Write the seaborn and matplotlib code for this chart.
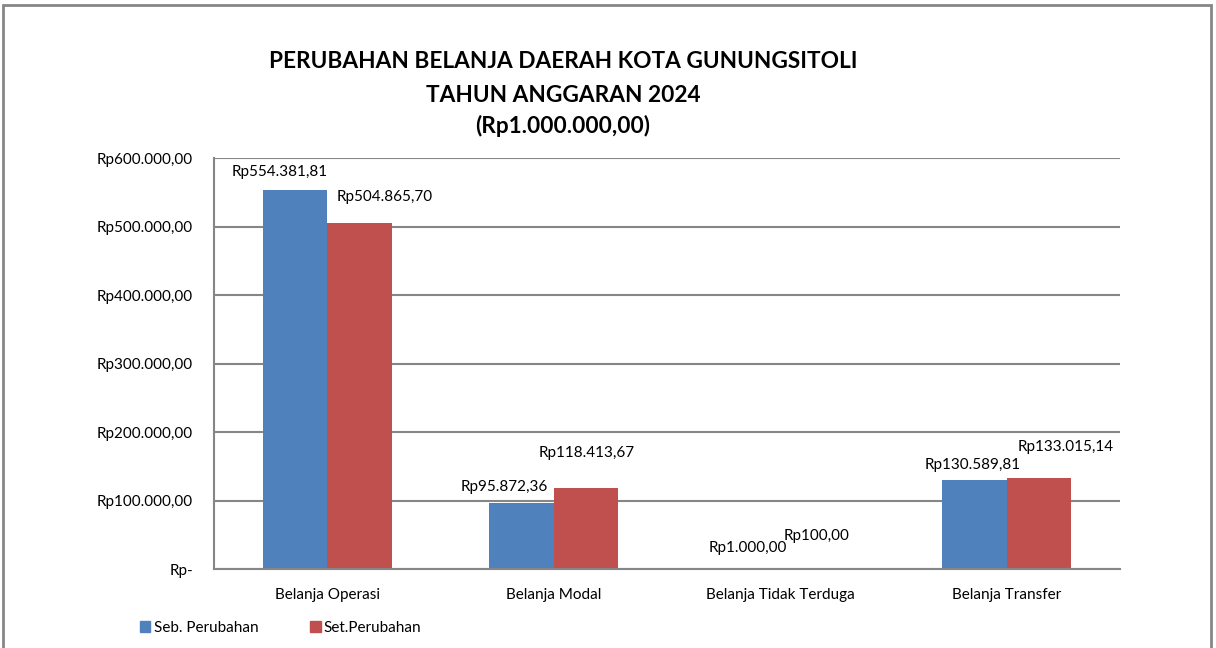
import numpy as np
import pandas as pd
import matplotlib
matplotlib.use('Agg')
import matplotlib.pyplot as plt
import seaborn as sns
from matplotlib.patches import Rectangle

# data (in Rp 1.000.000)
categories = ['Belanja Operasi', 'Belanja Modal', 'Belanja Tidak Terduga', 'Belanja Transfer']
seb_perubahan = [554381.81, 95872.36, 1000.00, 130589.81]
set_perubahan = [504865.70, 118413.67, 100.00, 133015.14]
seb_labels = ['Rp554.381,81', 'Rp95.872,36', 'Rp1.000,00', 'Rp130.589,81']
set_labels = ['Rp504.865,70', 'Rp118.413,67', 'Rp100,00', 'Rp133.015,14']
series_names = ['Seb. Perubahan', 'Set.Perubahan']
y_ticks = [0, 100000, 200000, 300000, 400000, 500000, 600000]
y_tick_labels = ['Rp-', 'Rp100.000,00', 'Rp200.000,00', 'Rp300.000,00',
                 'Rp400.000,00', 'Rp500.000,00', 'Rp600.000,00']

# label offsets in pixels from bar top (Excel moved them around)
seb_offsets = [(-15, 18), (-17, 16), (0, 20), (-2, 15)]
set_offsets = [(25, 26), (1, 35), (4, 33), (27, 31)]

df = pd.DataFrame({
    'Kategori': categories * 2,
    'Nilai': seb_perubahan + set_perubahan,
    'Seri': [series_names[0]] * 4 + [series_names[1]] * 4,
})

sns.set_style('white')
plt.rcParams['font.family'] = ['Lato', 'DejaVu Sans']
plt.rcParams['text.color'] = 'black'
plt.rcParams['xtick.labelcolor'] = 'black'
plt.rcParams['ytick.labelcolor'] = 'black'

fig = plt.figure(figsize=(12.16, 6.48), dpi=100)
ax = fig.add_axes([214 / 1216, 1 - 569 / 648, 906 / 1216, 411 / 648])

palette = {series_names[0]: '#4F81BD', series_names[1]: '#C0504D'}
sns.barplot(data=df, x='Kategori', y='Nilai', hue='Seri', palette=palette,
            width=0.57, saturation=1, linewidth=0, ax=ax, legend=True)

ax.set_ylim(0, 600400)
ax.set_xlim(-0.5, 3.5)
ax.set_yticks(y_ticks)
ax.set_yticklabels(y_tick_labels, fontsize=11)
ax.set_xlabel('')
ax.set_ylabel('')
ax.yaxis.grid(True, color='#868686', linewidth=1.5)
ax.set_axisbelow(True)
for s in ['top', 'right']:
    ax.spines[s].set_visible(False)
for s in ['left', 'bottom']:
    ax.spines[s].set_color('#868686')
    ax.spines[s].set_linewidth(1.5)

ax.set_xticks(range(4))
ax.set_xticklabels(categories, fontsize=11)
ax.set_xticks(np.arange(-0.5, 4, 1), minor=True)
ax.tick_params(axis='x', which='major', length=0, pad=14)
ax.tick_params(axis='x', which='minor', length=4.5, color='#868686', width=1.5, direction='out')
ax.tick_params(axis='y', length=4.5, color='#868686', width=1.5, direction='out', pad=10.5)

# data labels
for cont, labels, offs in zip(ax.containers, [seb_labels, set_labels], [seb_offsets, set_offsets]):
    for bar, lab, (dx, dy) in zip(cont, labels, offs):
        x = bar.get_x() + bar.get_width() / 2
        y = bar.get_height()
        ax.annotate(lab, (x, y), xytext=(dx, dy), textcoords='offset pixels',
                    ha='center', va='center', fontsize=11, color='black')

# legend
ax.get_legend().remove()
handles = [Rectangle((0, 0), 1, 1, color=palette[n]) for n in series_names]
fig.legend(handles, series_names, loc='center left', bbox_to_anchor=(126 / 1216, 1 - 628 / 648),
           ncol=2, frameon=False, fontsize=11, handlelength=0.7, handleheight=0.7,
           handletextpad=0.2, columnspacing=3.4)

# title
for txt, ypx in zip(['PERUBAHAN BELANJA DAERAH KOTA GUNUNGSITOLI', 'TAHUN ANGGARAN 2024',
                     '(Rp1.000.000,00)'], [62, 95, 126]):
    fig.text(563 / 1216, 1 - ypx / 648, txt, ha='center', va='center',
             fontsize=16.3, fontweight='bold', color='black')

# outer chart frame
fig.patches.append(Rectangle((3 / 1216, -0.02), 1208 / 1216, 1 - 5 / 648 + 0.02,
                             transform=fig.transFigure, fill=False,
                             edgecolor='#868686', linewidth=2))

fig.savefig('out.png', dpi=100)
